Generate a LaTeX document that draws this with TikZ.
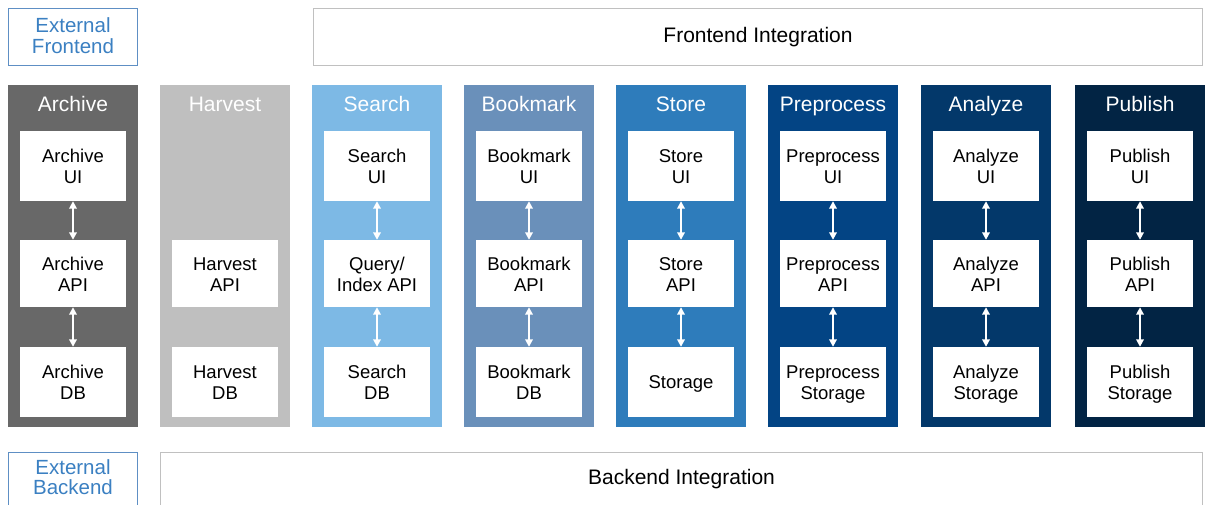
\documentclass[tikz,border=0pt]{standalone}
\usepackage{fontspec}
\setmainfont{Liberation Sans}
\usetikzlibrary{arrows.meta}
\newcommand\capstrut{\rule[-0.25em]{0pt}{1.166em}}
\definecolor{cArchive}{HTML}{686868}
\definecolor{cHarvest}{HTML}{BFBFBF}
\definecolor{cSearch}{HTML}{7DB9E5}
\definecolor{cBookmark}{HTML}{6A90BA}
\definecolor{cStore}{HTML}{2E7CBB}
\definecolor{cPreprocess}{HTML}{034484}
\definecolor{cAnalyze}{HTML}{03386A}
\definecolor{cPublish}{HTML}{022444}
\definecolor{extBorder}{HTML}{5E8FC4}
\definecolor{extText}{HTML}{3B80C2}
\definecolor{intBorder}{HTML}{C0C0C0}
\begin{document}
\begin{tikzpicture}[x=1pt,y=-1pt,
  onel/.style={execute at begin node=\capstrut, execute at end node=\capstrut},
  column/.style={fill=#1, draw=none, inner sep=0pt, minimum width=130pt, minimum height=342pt, anchor=north west},
  comp/.style={fill=white, draw=none, inner sep=0pt, minimum width=106pt, minimum height=#1},
  lbl/.style={inner sep=0pt, align=center, font=\fontsize{18.5}{21}\selectfont, onel},
  ttl/.style={text=white, inner sep=0pt, font=\fontsize{21}{24}\selectfont, onel},
  extbox/.style={draw=extBorder, line width=1.7pt, fill=white, inner sep=0pt},
  exttext/.style={text=extText, align=center, inner sep=0pt, font=\fontsize{20.5}{20.5}\selectfont, onel},
  intbox/.style={draw=intBorder, line width=1.8pt, fill=white, inner sep=0pt},
  inttext/.style={text=black, inner sep=0pt, font=\fontsize{21}{24}\selectfont, onel},
  link/.style={draw=white, line width=2.2pt, {Triangle[width=7.5pt,length=7.5pt]}-{Triangle[width=7.5pt,length=7.5pt]}}
]
\useasboundingbox (0,0) rectangle (1206,504);
\clip (0,0) rectangle (1206,504);
\fill[white] (0,0) rectangle (1206,504);

% top row
\node[extbox, minimum width=129pt, minimum height=57pt] (extF) at (73,37) {};
\node[exttext] (extFt) at (73,38) {External\\Frontend};
\node[intbox, minimum width=889pt, minimum height=57pt] (intF) at (758,37) {};
\node[inttext] (intFt) at (758,36) {Frontend Integration};

% bottom row
\node[extbox, minimum width=129pt, minimum height=57pt] (extB) at (73,481) {};
\node[exttext] (extBt) at (73,479.5) {External\\Backend};
\node[intbox, minimum width=1042pt, minimum height=57pt] (intB) at (681.5,481) {};
\node[inttext] (intBt) at (681.5,477.5) {Backend Integration};

% columns
\foreach \nm/\lx in {Archive/8, Harvest/160, Search/312, Bookmark/464, Store/616, Preprocess/768, Analyze/921, Publish/1075}{
  \node[column=c\nm] (col\nm) at (\lx,85) {};
  \node[ttl] (ttl\nm) at (\lx+65,105) {\nm};
}

% components
\foreach \nm/\lx/\ui/\api/\db/\dbo in {
  Archive/8/{Archive\\UI}/{Archive\\API}/{Archive\\DB}/3,
  Search/312/{Search\\UI}/{Query/\\Index API}/{Search\\DB}/3,
  Bookmark/464/{Bookmark\\UI}/{Bookmark\\API}/{Bookmark\\DB}/3,
  Store/616/{Store\\UI}/{Store\\API}/{Storage}/0,
  Preprocess/768/{Preprocess\\UI}/{Preprocess\\API}/{Preprocess\\Storage}/3,
  Analyze/921/{Analyze\\UI}/{Analyze\\API}/{Analyze\\Storage}/3,
  Publish/1075/{Publish\\UI}/{Publish\\API}/{Publish\\Storage}/3}{
  \node[comp=70pt] (ui\nm) at (\lx+65,166) {};
  \node[lbl] (uiT\nm) at (\lx+65,169) {\ui};
  \node[comp=67pt] (api\nm) at (\lx+65,273.5) {};
  \node[lbl] (apiT\nm) at (\lx+65,276.5) {\api};
  \node[comp=70pt] (db\nm) at (\lx+65,382) {};
  \node[lbl] (dbT\nm) at (\lx+65,382+\dbo) {\db};
  \draw[link] (ui\nm.south) -- (api\nm.north);
  \draw[link] (api\nm.south) -- (db\nm.north);
}

% Harvest (no UI, no links)
\node[comp=67pt] (apiHarvest) at (225,273.5) {};
\node[lbl] (apiTHarvest) at (225,276.5) {Harvest\\API};
\node[comp=70pt] (dbHarvest) at (225,382) {};
\node[lbl] (dbTHarvest) at (225,385) {Harvest\\DB};
\end{tikzpicture}
\end{document}
